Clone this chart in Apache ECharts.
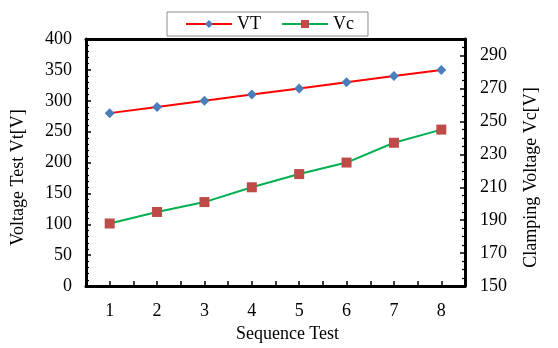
<!DOCTYPE html>
<html>
<head>
<meta charset="utf-8">
<script src="https://cdn.jsdelivr.net/npm/echarts@6/dist/echarts.min.js"></script>
<style>
  html, body { margin: 0; padding: 0; background: #fff; }
  #chart { width: 558px; height: 348px; }
</style>
</head>
<body>
<div id="chart"></div>
<script>
// Test sequence numbers and measured voltages
const sequence = [1, 2, 3, 4, 5, 6, 7, 8];
const vtValues = [280, 290, 300, 310, 320, 330, 340, 350];
const vcValues = [188, 195, 201, 210, 218, 225, 237, 245];

const leftTicks = { min: 0, max: 400, interval: 50 };
const rightTicks = { min: 150, max: 300, interval: 20 };

const FONT = 'Liberation Serif';
const BLACK = '#000';

const chart = echarts.init(document.getElementById('chart'), null, { renderer: 'canvas' });

const frameLine = { show: true, onZero: false, lineStyle: { color: BLACK, width: 3 } };

chart.setOption({
  animation: false,
  backgroundColor: '#fff',
  textStyle: { fontFamily: FONT },
  grid: { left: 86, right: 93, top: 39, bottom: 61, containLabel: false },
  legend: {
    top: 12,
    left: 167,
    width: 205,
    itemWidth: 46,
    itemHeight: 10,
    itemGap: 20,
    padding: [3, 14, 3, 18],
    borderColor: '#8c8c8c',
    borderWidth: 1,
    backgroundColor: '#fff',
    textStyle: { fontFamily: FONT, fontSize: 18, color: BLACK },
    data: ['VT', 'Vc']
  },
  xAxis: [
    {
      type: 'value',
      min: 0.5, max: 8.5, interval: 0.5,
      name: 'Sequence Test',
      nameLocation: 'middle',
      nameGap: 36,
      nameTextStyle: { fontFamily: FONT, fontSize: 18, color: BLACK, padding: [0, 0, 0, 24] },
      axisLine: frameLine,
      axisTick: { show: true, inside: true, length: 5, lineStyle: { color: BLACK, width: 1.5 } },
      axisLabel: {
        margin: 16,
        fontFamily: FONT, fontSize: 18, color: BLACK,
        formatter: v => (Number.isInteger(v) ? String(v) : '')
      },
      splitLine: { show: false }
    },
    {
      type: 'value',
      position: 'top',
      min: 0.5, max: 8.5,
      axisLine: frameLine,
      axisTick: { show: false },
      axisLabel: { show: false },
      splitLine: { show: false }
    }
  ],
  yAxis: [
    {
      type: 'value',
      position: 'left',
      min: leftTicks.min, max: leftTicks.max, interval: leftTicks.interval,
      name: 'Voltage Test Vt[V]',
      nameLocation: 'middle',
      nameGap: 59,
      nameTextStyle: { fontFamily: FONT, fontSize: 18, color: BLACK, padding: [0, 30, 0, 0] },
      axisLine: frameLine,
      axisTick: { show: true, inside: true, length: 5, lineStyle: { color: BLACK, width: 1.5 } },
      minorTick: { show: true, splitNumber: 5, length: 3, lineStyle: { color: BLACK, width: 1.2 } },
      axisLabel: { margin: 14, fontFamily: FONT, fontSize: 18, color: BLACK },
      splitLine: { show: false }
    },
    {
      type: 'value',
      position: 'right',
      min: rightTicks.min, max: rightTicks.max, interval: rightTicks.interval,
      name: 'Clamping Voltage Vc[V]',
      nameLocation: 'middle',
      nameGap: 57,
      nameTextStyle: { fontFamily: FONT, fontSize: 18, color: BLACK, padding: [0, 30, 0, 0] },
      axisLine: frameLine,
      axisTick: { show: true, inside: true, length: 5, lineStyle: { color: BLACK, width: 1.5 } },
      minorTick: { show: true, splitNumber: 4, length: 3, lineStyle: { color: BLACK, width: 1.2 } },
      axisLabel: { margin: 15, fontFamily: FONT, fontSize: 18, color: BLACK, showMaxLabel: false },
      splitLine: { show: false }
    }
  ],
  series: [
    {
      name: 'VT',
      type: 'line',
      xAxisIndex: 0,
      yAxisIndex: 0,
      data: sequence.map((s, i) => [s, vtValues[i]]),
      symbol: 'diamond',
      symbolSize: 10,
      lineStyle: { color: '#ff0000', width: 2 },
      itemStyle: { color: '#4a7ebb' }
    },
    {
      name: 'Vc',
      type: 'line',
      xAxisIndex: 0,
      yAxisIndex: 1,
      data: sequence.map((s, i) => [s, vcValues[i]]),
      symbol: 'rect',
      symbolSize: 10,
      lineStyle: { color: '#00b050', width: 2 },
      itemStyle: { color: '#be4b48' }
    }
  ]
});
</script>
</body>
</html>
